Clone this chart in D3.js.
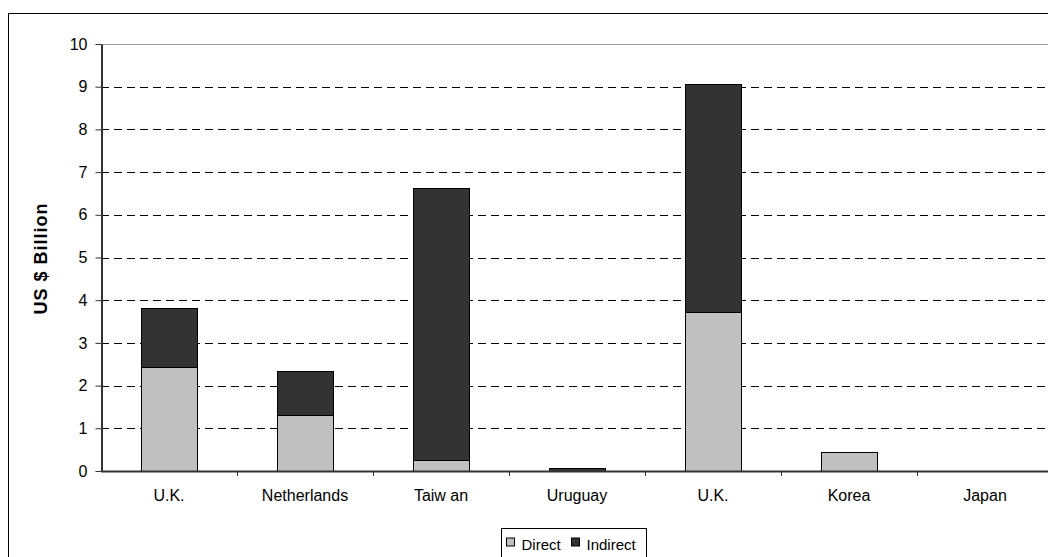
<!DOCTYPE html>
<html>
<head>
<meta charset="utf-8">
<script src="https://cdn.jsdelivr.net/npm/d3@7"></script>
<style>
  body { margin: 0; background: #fff; }
  svg { font-family: "Liberation Sans", Arial, sans-serif; }
</style>
</head>
<body>
<div id="container"></div>
<script>
// chart data
const categories = ["U.K.", "Netherlands", "Taiw an", "Uruguay", "U.K.", "Korea", "Japan"];
const directValues = [2.44, 1.31, 0.25, 0, 3.72, 0.44, 0];
const indirectValues = [1.38, 1.03, 6.38, 0.08, 5.34, 0, 0];
const yTicks = [0, 1, 2, 3, 4, 5, 6, 7, 8, 9, 10];
const seriesNames = ["Direct", "Indirect"];
const seriesColors = ["#c0c0c0", "#333333"];

const W = 1048, H = 557;
const plotLeft = 101, plotRight = 1053, plotTop = 44, plotBottom = 471;

var svg = d3.select("div#container")
  .append("svg")
  .attr("width", W)
  .attr("height", H);

// outer chart frame (runs off the right/bottom edge)
svg.append("rect")
  .attr("x", 8.5).attr("y", 13.5)
  .attr("width", 1060).attr("height", 560)
  .attr("fill", "#fff")
  .attr("stroke", "#000")
  .attr("stroke-width", 1);

var x = d3.scaleBand()
  .domain(d3.range(categories.length))
  .range([plotLeft, plotRight])
  .paddingInner(0.59)
  .paddingOuter(0.295);

var xGroup = d3.scaleBand()
  .domain(d3.range(categories.length))
  .range([plotLeft, plotRight]);

var y = d3.scaleLinear()
  .domain([0, 10])
  .range([plotBottom, plotTop]);

// gridlines
svg.append("g")
  .selectAll("line")
  .data(yTicks.filter(d => d > 0 && d < 10))
  .enter().append("line")
  .attr("x1", plotLeft).attr("x2", plotRight)
  .attr("y1", d => Math.round(y(d)) + 0.5)
  .attr("y2", d => Math.round(y(d)) + 0.5)
  .attr("stroke", "#000")
  .attr("stroke-dasharray", "8,5");

// top border of plot area
svg.append("line")
  .attr("x1", plotLeft).attr("x2", plotRight)
  .attr("y1", Math.round(y(10)) + 0.5).attr("y2", Math.round(y(10)) + 0.5)
  .attr("stroke", "#999");

// stacked bars
var stackData = categories.map((c, i) => ({ i: i, Direct: directValues[i], Indirect: indirectValues[i] }));
var stack = d3.stack().keys(seriesNames)(stackData);

svg.append("g")
  .selectAll("g")
  .data(stack)
  .enter().append("g")
  .attr("fill", (d, k) => seriesColors[k])
  .selectAll("rect")
  .data(d => d.filter(s => s[1] - s[0] > 0))
  .enter().append("rect")
  .attr("x", d => Math.round(x(d.data.i)) + 0.5)
  .attr("width", Math.round(x.bandwidth()))
  .attr("y", d => Math.round(y(d[1])) + 0.5)
  .attr("height", d => Math.max(1, Math.round(y(d[0])) - Math.round(y(d[1]))))
  .attr("stroke", "#000")
  .attr("stroke-width", 1);

// y axis
var yAxis = svg.append("g")
  .attr("transform", "translate(" + (plotLeft + 0.5) + ",0)")
  .call(d3.axisLeft(y).tickValues(yTicks).tickSize(6).tickSizeOuter(0).tickPadding(8));
yAxis.select(".domain").attr("stroke", "#333").attr("stroke-width", 2);
yAxis.selectAll(".tick line").attr("stroke", "#333");
yAxis.selectAll("text").attr("font-size", 16).attr("fill", "#000");

// x axis with ticks between categories
svg.append("line")
  .attr("x1", plotLeft).attr("x2", plotRight)
  .attr("y1", plotBottom + 0.5).attr("y2", plotBottom + 0.5)
  .attr("stroke", "#333").attr("stroke-width", 2);

svg.append("g")
  .selectAll("line")
  .data(d3.range(1, categories.length))
  .enter().append("line")
  .attr("x1", d => Math.round(xGroup(d)) + 0.5)
  .attr("x2", d => Math.round(xGroup(d)) + 0.5)
  .attr("y1", plotBottom).attr("y2", plotBottom + 5)
  .attr("stroke", "#333");

svg.append("g")
  .selectAll("text")
  .data(categories)
  .enter().append("text")
  .attr("x", (d, i) => xGroup(i) + xGroup.bandwidth() / 2)
  .attr("y", 501)
  .attr("text-anchor", "middle")
  .attr("font-size", 16)
  .text(d => d);

// y axis title
svg.append("text")
  .attr("transform", "translate(47," + ((plotTop + plotBottom) / 2 + 1) + ") rotate(-90)")
  .attr("text-anchor", "middle")
  .attr("font-size", 18)
  .attr("font-weight", "bold")
  .attr("letter-spacing", 1)
  .text("US $ Billion");

// legend
var legend = svg.append("g").attr("transform", "translate(501.5,528.5)");
legend.append("rect")
  .attr("width", 145).attr("height", 40)
  .attr("fill", "#fff").attr("stroke", "#000");

var legendX = [5, 70];
seriesNames.forEach((name, k) => {
  legend.append("rect")
    .attr("x", legendX[k]).attr("y", 9.5)
    .attr("width", 8).attr("height", 8)
    .attr("fill", seriesColors[k]).attr("stroke", "#000");
  legend.append("text")
    .attr("x", legendX[k] + 15).attr("y", 21)
    .attr("font-size", 15)
    .text(name);
});
</script>
</body>
</html>
